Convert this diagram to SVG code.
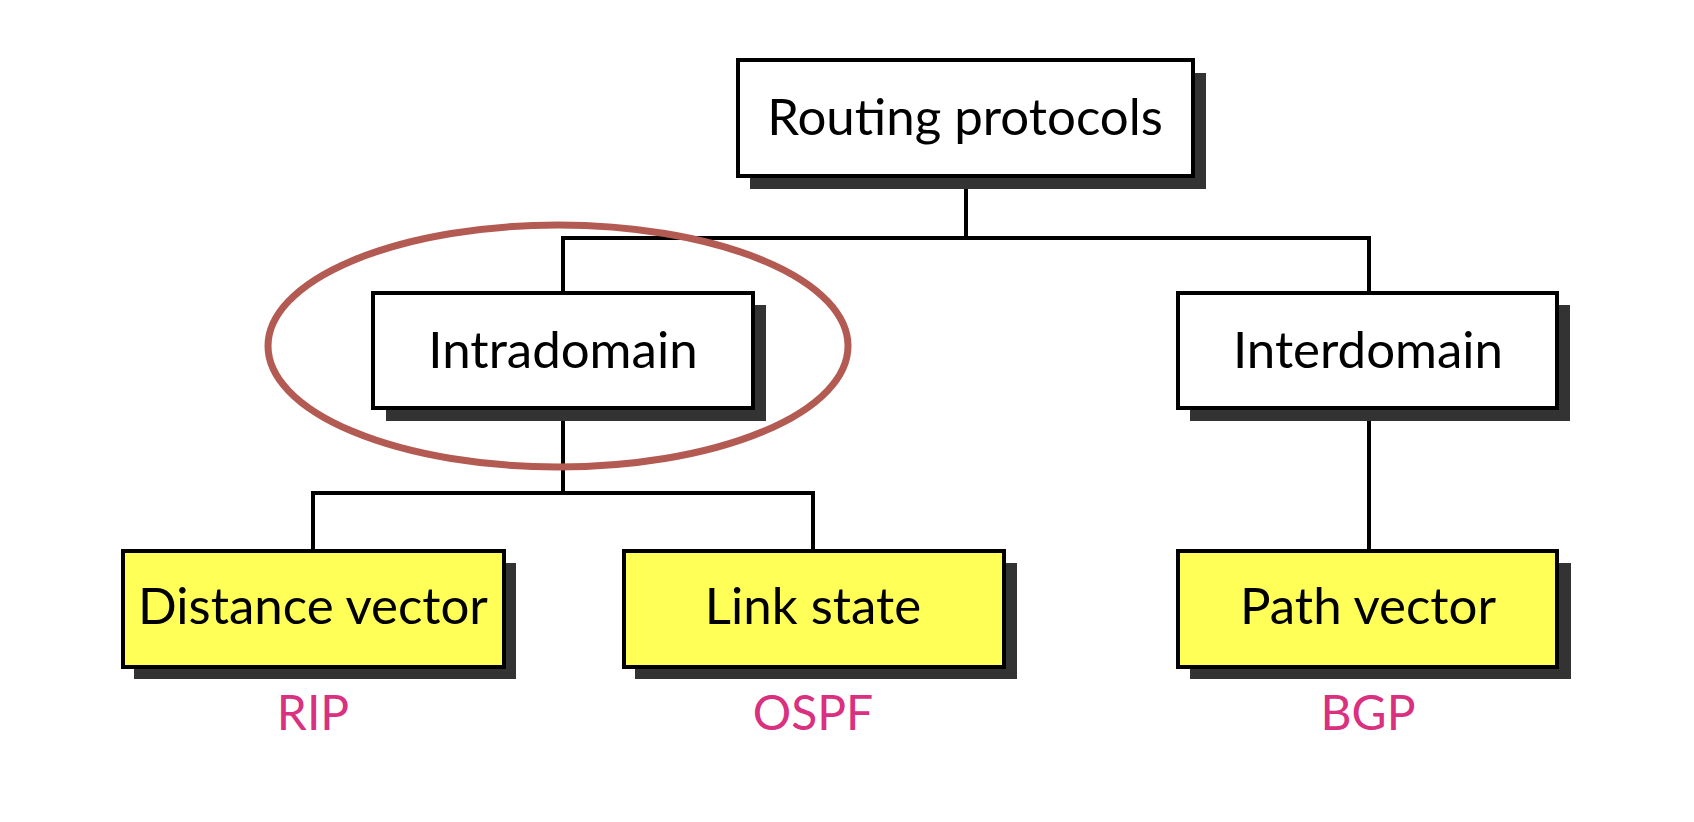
<svg xmlns="http://www.w3.org/2000/svg" width="1694" height="822" viewBox="0 0 1694 822">
<style>
.shadow{fill:#333333;}
.box{fill:#ffffff;stroke:#000000;stroke-width:4;}
.ybox{fill:#ffff57;stroke:#000000;stroke-width:4;}
.lbl{font-family:Lato,"Open Sans","Liberation Sans",sans-serif;font-size:51px;fill:#000000;text-anchor:middle;}
.proto{font-family:Lato,"Open Sans","Liberation Sans",sans-serif;font-size:48px;fill:#d9307f;text-anchor:middle;}
.conn{fill:none;stroke:#000000;stroke-width:4;}
</style>
<rect width="1694" height="822" fill="#ffffff"/>
<g id="connectors">
<path class="conn" d="M966 176 V238"/>
<path class="conn" d="M563 292 V238 H1369 V292"/>
<path class="conn" d="M563 408 V493"/>
<path class="conn" d="M313 551 V493 H813 V551"/>
<path class="conn" d="M1369 408 V551"/>
</g>
<g id="routing">
<rect class="shadow" x="750" y="73" width="456" height="116"/>
<rect class="box" x="738" y="60" width="455" height="116"/>
<text class="lbl" x="965" y="135">Routing protocols</text>
</g>
<g id="intradomain">
<rect class="shadow" x="386" y="305" width="380" height="116"/>
<rect class="box" x="373" y="293" width="380" height="115"/>
<text class="lbl" x="563" y="368">Intradomain</text>
</g>
<g id="interdomain">
<rect class="shadow" x="1190" y="305" width="380" height="116"/>
<rect class="box" x="1178" y="293" width="379" height="115"/>
<text class="lbl" x="1368" y="368">Interdomain</text>
</g>
<g id="distance-vector">
<rect class="shadow" x="134" y="563" width="382" height="116"/>
<rect class="ybox" x="123" y="551" width="381" height="116"/>
<text class="lbl" x="313" y="624">Distance vector</text>
<text class="proto" x="313" y="730">RIP</text>
</g>
<g id="link-state">
<rect class="shadow" x="635" y="563" width="382" height="116"/>
<rect class="ybox" x="624" y="551" width="380" height="116"/>
<text class="lbl" x="813" y="624">Link state</text>
<text class="proto" x="813" y="730">OSPF</text>
</g>
<g id="path-vector">
<rect class="shadow" x="1190" y="563" width="381" height="116"/>
<rect class="ybox" x="1178" y="551" width="379" height="116"/>
<text class="lbl" x="1368" y="624">Path vector</text>
<text class="proto" x="1368" y="730">BGP</text>
</g>
<g id="highlight">
<ellipse cx="558" cy="346" rx="290" ry="121" fill="none" stroke="#b35a52" stroke-width="7"/>
</g>
</svg>
